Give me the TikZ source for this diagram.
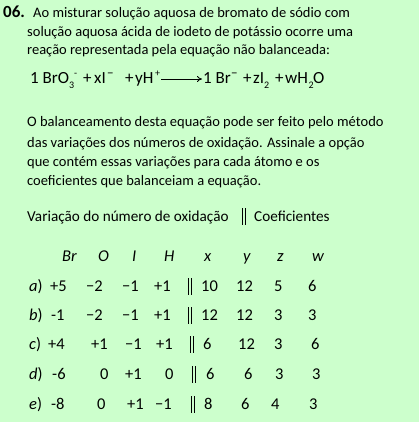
\documentclass[tikz,border=0pt]{standalone}
\usepackage{fontspec}
\usetikzlibrary{arrows.meta}
\setmainfont{Carlito}
\definecolor{bg}{HTML}{CCFFCC}
\newcommand\dbar{\rule[-3.5pt]{1.2pt}{17pt}\hspace{1.8pt}\rule[-3.5pt]{1.2pt}{17pt}}
\begin{document}
\begin{tikzpicture}[x=1pt,y=-1pt,
  txt/.style={anchor=base west,inner sep=0pt,font=\fontsize{14.5}{17}\selectfont},
  txtb/.style={anchor=base west,inner sep=0pt,font=\fontsize{15.2}{18}\selectfont},
  tab/.style={anchor=base west,inner sep=0pt,font=\fontsize{16.5}{19}\selectfont},
  eq/.style={anchor=base west,inner sep=0pt,font=\fontsize{17}{20}\selectfont},
  eqs/.style={anchor=base west,inner sep=0pt,font=\fontsize{10}{12}\selectfont},
  eqm/.style={anchor=base west,inner sep=0pt,font=\fontsize{13}{14}\selectfont}]
\fill[bg] (0,0) rectangle (419,422);
\useasboundingbox (0,0) rectangle (419,422);
% question text
\node[txt,font=\fontsize{17}{19}\selectfont\bfseries] (num) at (3,18) {06.};
\node[txt] (l1) at (33,18) {Ao misturar solução aquosa de bromato de sódio com};
\node[txt] (l2) at (27,37) {solução aquosa ácida de iodeto de potássio ocorre uma};
\node[txt] (l3) at (27,55) {reação representada pela equação não balanceada:};
% equation
\node[eq] (e1) at (30,84) {1 BrO};
\node[eqs] (e1s) at (69,89) {3};
\node[eqs] (e1p) at (74,77) {-};
\node[eq] (e2) at (83,84) {+};
\node[eq] (e3) at (94,84) {xI};
\node[eqm] (e3p) at (107,78) {\textminus};
\node[eq] (e4) at (125,84) {+};
\node[eq] (e5) at (135,84) {yH};
\node[eqs] (e5p) at (155,77) {+};
\coordinate (arrA) at (161,79);
\coordinate (arrB) at (202,79);
\draw[line width=0.8pt,-{To[length=5pt,width=6pt]}] (arrA) -- (arrB);
\node[eq] (e6) at (203,84) {1 Br};
\node[eqm] (e6p) at (231,78) {\textminus};
\node[eq] (e7) at (243,84) {+};
\node[eq] (e8) at (253,84) {zI};
\node[eqs] (e8s) at (264,89) {2};
\node[eq] (e9) at (275,84) {+};
\node[eq] (e10) at (285,84) {wH};
\node[eqs] (e10s) at (308.5,89) {2};
\node[eq] (e11) at (313,84) {O};
% paragraph
\node[txt] (p1) at (27,127) {O balanceamento desta equação pode ser feito pelo método};
\node[txt] (p2) at (27,147) {das variações dos números de oxidação. Assinale a opção};
\node[txt] (p3) at (27,166) {que contém essas variações para cada átomo e os};
\node[txt] (p4) at (27,185) {coeficientes que balanceiam a equação.};
\node[txtb] (v1) at (27,221) {Variação do número de oxidação};
\node[txtb] (vb) at (242,221) {\dbar};
\node[txtb] (v2) at (254,221) {Coeficientes};
% header
\node[tab] (hBr) at (62,261) {\itshape Br};
\node[tab] (hO) at (98,261) {\itshape O};
\node[tab] (hI) at (132,261) {\itshape I};
\node[tab] (hH) at (164,261) {\itshape H};
\node[tab] (hx) at (204,261) {\itshape x};
\node[tab] (hy) at (243,261) {\itshape y};
\node[tab] (hz) at (277,261) {\itshape z};
\node[tab] (hw) at (312,261) {\itshape w};
% row a
\node[tab] (a0) at (29,291) {\textit{a})};
\node[tab] (a1) at (50,291) {+5};
\node[tab] (a2) at (86,291) {\textminus 2};
\node[tab] (a3) at (122,291) {\textminus 1};
\node[tab] (a4) at (154,291) {+1};
\node[tab] (a5) at (188,291) {\dbar};
\node[tab] (a6) at (201,291) {10};
\node[tab] (a7) at (236,291) {12};
\node[tab] (a8) at (274,291) {5};
\node[tab] (a9) at (308,291) {6};
% row b
\node[tab] (b0) at (29,320) {\textit{b})};
\node[tab] (b1) at (51,320) {-1};
\node[tab] (b2) at (86,320) {\textminus 2};
\node[tab] (b3) at (122,320) {\textminus 1};
\node[tab] (b4) at (154,320) {+1};
\node[tab] (b5) at (188,320) {\dbar};
\node[tab] (b6) at (201,320) {12};
\node[tab] (b7) at (236,320) {12};
\node[tab] (b8) at (274,320) {3};
\node[tab] (b9) at (308,320) {3};
% row c
\node[tab] (c0) at (29,349) {\textit{c})};
\node[tab] (c1) at (48,349) {+4};
\node[tab] (c2) at (91,349) {+1};
\node[tab] (c3) at (125,349) {\textminus 1};
\node[tab] (c4) at (156,349) {+1};
\node[tab] (c5) at (190,349) {\dbar};
\node[tab] (c6) at (203,349) {6};
\node[tab] (c7) at (238,349) {12};
\node[tab] (c8) at (274,349) {3};
\node[tab] (c9) at (311,349) {6};
% row d
\node[tab] (d0) at (29,379) {\textit{d})};
\node[tab] (d1) at (52,379) {-6};
\node[tab] (d2) at (100,379) {0};
\node[tab] (d3) at (125,379) {+1};
\node[tab] (d4) at (165,379) {0};
\node[tab] (d5) at (192,379) {\dbar};
\node[tab] (d6) at (206,379) {6};
\node[tab] (d7) at (244,379) {6};
\node[tab] (d8) at (275,379) {3};
\node[tab] (d9) at (312,379) {3};
% row e
\node[tab] (f0) at (29,409) {\textit{e})};
\node[tab] (f1) at (51,409) {-8};
\node[tab] (f2) at (97,409) {0};
\node[tab] (f3) at (127,409) {+1};
\node[tab] (f4) at (155,409) {\textminus 1};
\node[tab] (f5) at (191,409) {\dbar};
\node[tab] (f6) at (204,409) {8};
\node[tab] (f7) at (241,409) {6};
\node[tab] (f8) at (271,409) {4};
\node[tab] (f9) at (309,409) {3};
\end{tikzpicture}
\end{document}
